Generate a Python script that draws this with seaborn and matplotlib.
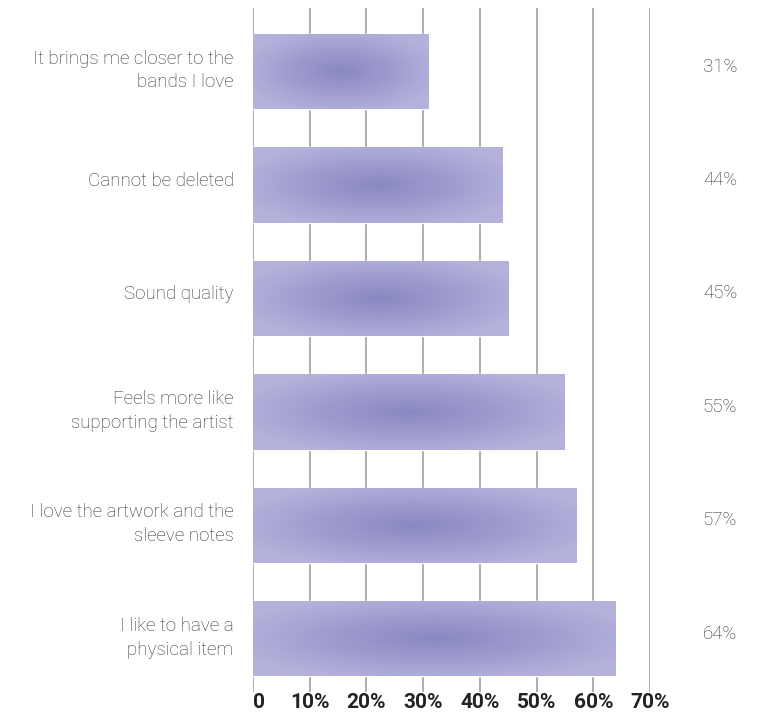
import numpy as np
import pandas as pd
import matplotlib
matplotlib.use("Agg")
import matplotlib.pyplot as plt
import matplotlib.transforms as mtransforms
import seaborn as sns
from matplotlib.colors import LinearSegmentedColormap

categories = ["It brings me closer to the\nbands I love",
              "Cannot be deleted",
              "Sound quality",
              "Feels more like\nsupporting the artist",
              "I love the artwork and the\nsleeve notes",
              "I like to have a\nphysical item"]
values = [31, 44, 45, 55, 57, 64]
value_labels = ["31%", "44%", "45%", "55%", "57%", "64%"]
xticks = [0, 10, 20, 30, 40, 50, 60, 70]
xtick_labels = ["0", "10%", "20%", "30%", "40%", "50%", "60%", "70%"]

df = pd.DataFrame({"cat": categories, "val": values})

sns.set_style("white")
plt.rcParams['font.family'] = ['Roboto', 'DejaVu Sans']

W, H = 760, 715
fig = plt.figure(figsize=(W / 100, H / 100), dpi=100)
ax = fig.add_axes([253 / W, 1 - 692 / H, (650 - 253) / W, (692 - 8) / H])

sns.barplot(data=df, x="val", y="cat", orient="h", color="#a3a1d1",
            width=0.665, ax=ax, saturation=1)

ax.set_xlim(0, 70)
ax.set_ylim(5.47, -0.56)

# radial gradient fill clipped to each bar
cmap = LinearSegmentedColormap.from_list("g", ["#8a88c2", "#9e9cce", "#b4b2db"])
gx = np.linspace(-1, 1, 300)
gy = np.linspace(-1, 1, 80)
GX, GY = np.meshgrid(gx, gy)
R = np.clip(np.sqrt(GX ** 2 + GY ** 2), 0, 1.2)
for p in ax.patches:
    x0, y0 = p.get_x(), p.get_y()
    w, h = p.get_width(), p.get_height()
    im = ax.imshow(R, cmap=cmap, vmin=0, vmax=1.15, aspect="auto",
                   extent=[x0, x0 + w, y0 + h, y0], zorder=p.get_zorder() + 0.1,
                   interpolation="bilinear")
    im.set_clip_path(p)
ax.set_xlim(0, 70)
ax.set_ylim(5.47, -0.56)

# gridlines
for t in xticks:
    ax.axvline(t, color="#a0a0a0", lw=1.2, zorder=0)

for s in ax.spines.values():
    s.set_visible(False)

ax.set_xlabel("")
ax.set_ylabel("")
ax.set_xticks(xticks)
ax.set_xticklabels(xtick_labels, fontsize=15, fontweight="bold", color="#222222")
ax.tick_params(axis="x", length=0, pad=1)
ax.get_xticklabels()[0].set_ha("left")
ax.set_yticks(range(len(categories)))
ax.set_yticklabels(categories, fontsize=13.5, color="#333333", fontweight="light",
                   linespacing=1.42)
ax.tick_params(axis="y", length=0, pad=14)
shift = mtransforms.ScaledTranslation(0, 6 / 100, fig.dpi_scale_trans)
for lab in ax.get_yticklabels():
    lab.set_transform(lab.get_transform() + shift)

for i, lab in enumerate(value_labels):
    ax.annotate(lab, xy=(1, i), xycoords=("axes fraction", "data"),
                xytext=(70, 5), textcoords="offset pixels",
                ha="center", va="center", fontsize=13.5, color="#333333",
                fontweight="light")

fig.savefig("out.png", dpi=100)
